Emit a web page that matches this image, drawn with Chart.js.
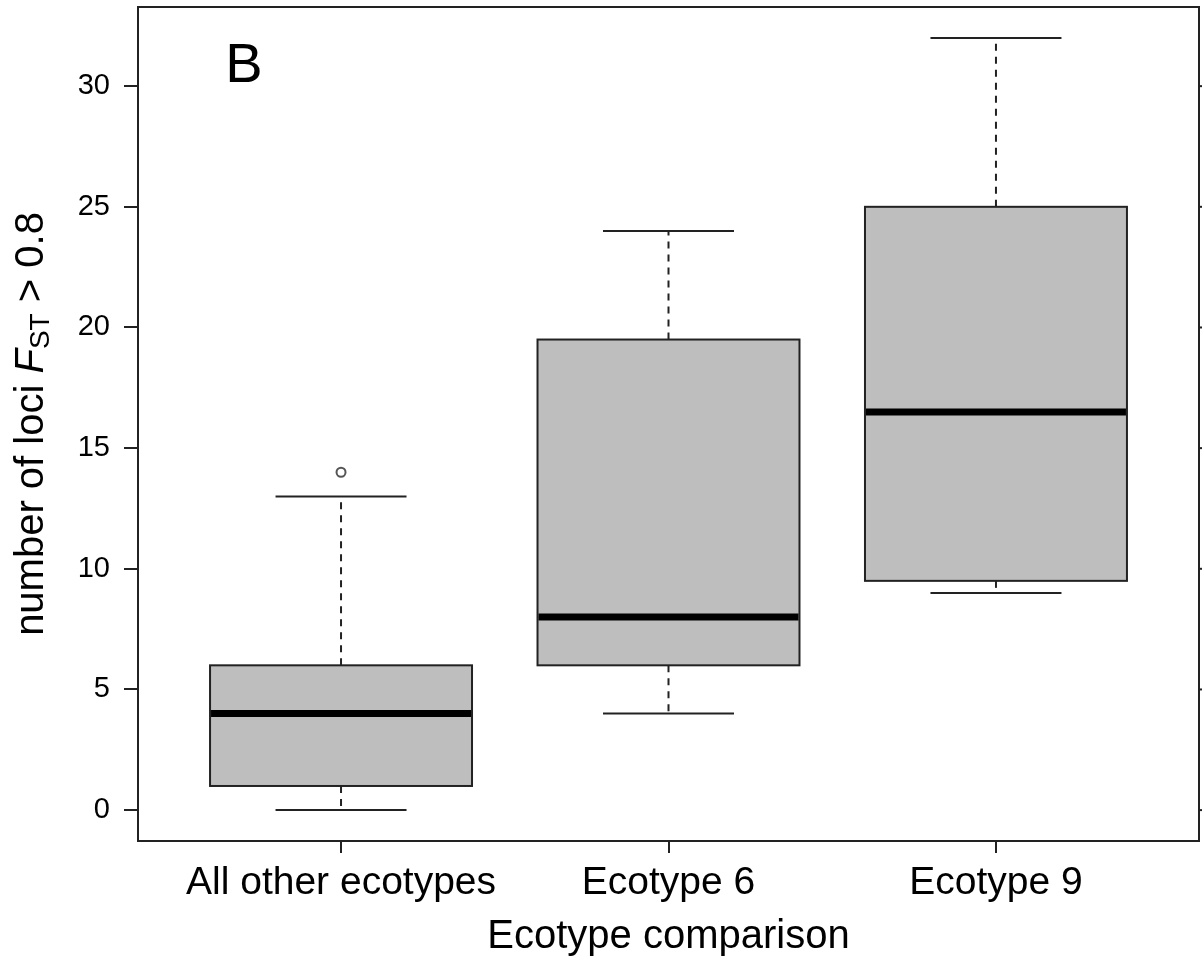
<!DOCTYPE html>
<html>
<head>
<meta charset="utf-8">
<script src="https://cdn.jsdelivr.net/npm/chart.js@4.4.0/dist/chart.umd.min.js"></script>
<style>
html, body { margin: 0; padding: 0; background: #fff; }
#wrap { width: 1202px; height: 959px; }
</style>
</head>
<body>
<div id="wrap"><canvas id="chart" width="1202" height="959"></canvas></div>
<script>
// box statistics, one entry per ecotype group
var categories = ['All other ecotypes', 'Ecotype 6', 'Ecotype 9'];
var whiskerLow = [0, 4, 9];
var q1 = [1, 6, 9.5];
var medians = [4, 8, 16.5];
var q3 = [6, 19.5, 25];
var whiskerHigh = [13, 24, 32];
var outliers = [[14], [], []];
var yTicks = [0, 5, 10, 15, 20, 25, 30];

var FONT = '"Liberation Sans", Arial, Helvetica, sans-serif';
var INK = '#222';

var outlierPoints = [];
for (var i = 0; i < outliers.length; i++) {
    for (var j = 0; j < outliers[i].length; j++) {
        outlierPoints.push({x: i + 1, y: outliers[i][j]});
    }
}

function line(ctx, x1, y1, x2, y2) {
    ctx.beginPath();
    ctx.moveTo(x1, y1);
    ctx.lineTo(x2, y2);
    ctx.stroke();
}

var boxPlugin = {
    id: 'boxes',
    beforeDatasetsDraw: function(chart) {
        var ctx = chart.ctx;
        var xs = chart.scales.x, ys = chart.scales.y;
        ctx.save();
        for (var i = 0; i < categories.length; i++) {
            var xc = xs.getPixelForValue(i + 1);
            var xl = xs.getPixelForValue(i + 1 - 0.4);
            var xr = xs.getPixelForValue(i + 1 + 0.4);
            var cl = xs.getPixelForValue(i + 1 - 0.2);
            var cr = xs.getPixelForValue(i + 1 + 0.2);
            var yLo = ys.getPixelForValue(whiskerLow[i]);
            var yQ1 = ys.getPixelForValue(q1[i]);
            var yMed = ys.getPixelForValue(medians[i]);
            var yQ3 = ys.getPixelForValue(q3[i]);
            var yHi = ys.getPixelForValue(whiskerHigh[i]);

            // whiskers (dashed)
            ctx.strokeStyle = INK;
            ctx.lineWidth = 2;
            ctx.setLineDash([7, 6]);
            line(ctx, xc, yQ3, xc, yHi);
            line(ctx, xc, yQ1, xc, yLo);
            ctx.setLineDash([]);
            // staples
            line(ctx, cl, yHi, cr, yHi);
            line(ctx, cl, yLo, cr, yLo);

            // box
            ctx.fillStyle = '#bebebe';
            ctx.fillRect(xl, yQ3, xr - xl, yQ1 - yQ3);
            ctx.lineWidth = 2;
            ctx.strokeRect(xl, yQ3, xr - xl, yQ1 - yQ3);

            // median
            ctx.strokeStyle = '#000';
            ctx.lineWidth = 7;
            line(ctx, xl + 1, yMed, xr - 1, yMed);
        }
        ctx.restore();
    },
    afterDraw: function(chart) {
        var ctx = chart.ctx;
        var a = chart.chartArea;
        var ys = chart.scales.y;
        ctx.save();
        // frame around the plot
        ctx.strokeStyle = INK;
        ctx.lineWidth = 2;
        ctx.strokeRect(a.left, a.top, a.right - a.left, a.bottom - a.top);
        // right side ticks
        for (var i = 0; i < yTicks.length; i++) {
            var y = ys.getPixelForValue(yTicks[i]);
            line(ctx, a.right, y, a.right + 12, y);
        }

        // panel letter
        ctx.fillStyle = '#000';
        ctx.textAlign = 'center';
        ctx.textBaseline = 'alphabetic';
        ctx.font = '56px ' + FONT;
        ctx.fillText('B', 244, 82);

        // x title
        ctx.font = '40px ' + FONT;
        ctx.fillText('Ecotype comparison', (a.left + a.right) / 2, 948);

        // y title with italic F and subscript ST
        var parts = [
            {t: 'number of loci ', f: '40px ' + FONT, dy: 0},
            {t: 'F', f: 'italic 40px ' + FONT, dy: 0},
            {t: 'ST', f: '28px ' + FONT, dy: 6},
            {t: ' > 0.8', f: '40px ' + FONT, dy: 0}
        ];
        var total = 0;
        for (i = 0; i < parts.length; i++) {
            ctx.font = parts[i].f;
            parts[i].w = ctx.measureText(parts[i].t).width;
            total += parts[i].w;
        }
        ctx.translate(43, (a.top + a.bottom) / 2);
        ctx.rotate(-Math.PI / 2);
        ctx.textAlign = 'left';
        var x = -total / 2;
        for (i = 0; i < parts.length; i++) {
            ctx.font = parts[i].f;
            ctx.fillText(parts[i].t, x, parts[i].dy);
            x += parts[i].w;
        }
        ctx.restore();
    }
};

var ctx = document.getElementById('chart').getContext('2d');
var chart = new Chart(ctx, {
    type: 'scatter',
    data: {
        datasets: [{
            label: 'outliers',
            data: outlierPoints,
            pointStyle: 'circle',
            pointRadius: 4.5,
            pointBorderWidth: 2,
            borderColor: '#555',
            backgroundColor: 'rgba(255,255,255,0)'
        }]
    },
    options: {
        responsive: false,
        devicePixelRatio: 1,
        animation: false,
        layout: {autoPadding: false, padding: {top: 7, right: 3, left: 0, bottom: 0}},
        plugins: {
            legend: {display: false},
            tooltip: {enabled: false}
        },
        scales: {
            x: {
                type: 'linear',
                min: 0.38,
                max: 3.62,
                afterBuildTicks: function(axis) {
                    axis.ticks = categories.map(function(c, i) { return {value: i + 1}; });
                },
                afterFit: function(axis) {
                    axis.height = 118;
                    axis.paddingLeft = 0;
                    axis.paddingRight = 0;
                },
                ticks: {
                    autoSkip: false,
                    maxRotation: 0,
                    color: '#000',
                    padding: 7,
                    font: {family: FONT, size: 39},
                    callback: function(v) { return categories[v - 1]; }
                },
                grid: {drawOnChartArea: false, drawTicks: true, tickLength: 12, color: INK, lineWidth: 2},
                border: {display: false}
            },
            y: {
                type: 'linear',
                min: -1.28,
                max: 33.28,
                afterBuildTicks: function(axis) {
                    axis.ticks = yTicks.map(function(v) { return {value: v}; });
                },
                afterFit: function(axis) {
                    axis.width = 138;
                    axis.paddingTop = 0;
                    axis.paddingBottom = 0;
                },
                ticks: {
                    color: '#000',
                    padding: 14,
                    font: {family: FONT, size: 29}
                },
                grid: {drawOnChartArea: false, drawTicks: true, tickLength: 14, color: INK, lineWidth: 2},
                border: {display: false}
            }
        }
    },
    plugins: [boxPlugin]
});
</script>
</body>
</html>
